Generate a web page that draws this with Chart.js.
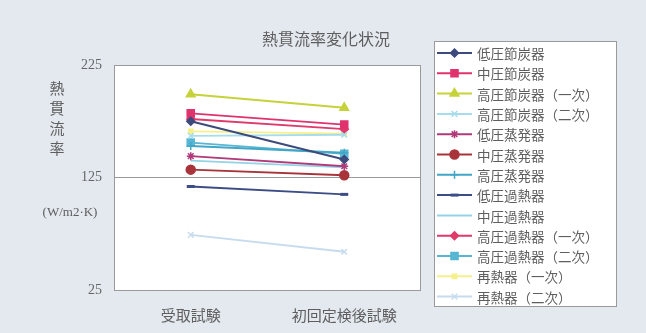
<!DOCTYPE html>
<html>
<head>
<meta charset="utf-8">
<script src="https://cdn.jsdelivr.net/npm/chart.js@4/dist/chart.umd.min.js"></script>
<style>
  html, body { margin: 0; padding: 0; background: #e3e9ef; }
  #wrap { width: 646px; height: 333px; }
</style>
</head>
<body>
<div id="wrap"><canvas id="c" width="646" height="333"></canvas></div>
<script>
// categories and tick labels
const categories = ['受取試験', '初回定検後試験'];
const yTicks = [25, 125, 225];

// series names (legend order)
const seriesNames = [
    '低圧節炭器', '中圧節炭器', '高圧節炭器（一次）', '高圧節炭器（二次）',
    '低圧蒸発器', '中圧蒸発器', '高圧蒸発器', '低圧過熱器', '中圧過熱器',
    '高圧過熱器（一次）', '高圧過熱器（二次）', '再熱器（一次）', '再熱器（二次）'
];

// values (W/m2·K)
const lpEcon = [175, 141];
const ipEcon = [182, 172];
const hpEcon1 = [199, 187];
const hpEcon2 = [162, 163];
const lpEvap = [144, 135];
const ipEvap = [132, 127];
const hpEvap = [153, 147];
const lpSh = [117, 110];
const ipSh = [140, 134];
const hpSh1 = [177, 168];
const hpSh2 = [156, 146];
const rh1 = [166, 164];
const rh2 = [74, 59];

const seriesValues = [lpEcon, ipEcon, hpEcon1, hpEcon2, lpEvap, ipEvap, hpEvap,
    lpSh, ipSh, hpSh1, hpSh2, rh1, rh2];

// styles per series
const styles = [
    { color: '#3c4a7c', point: 'rectRot', r: 4 },
    { color: '#e0336e', point: 'rect', r: 5 },
    { color: '#c6d23a', point: 'triangle', r: 5 },
    { color: '#a6dcec', point: 'crossRot', r: 4 },
    { color: '#b03a7a', point: 'star', r: 4 },
    { color: '#a8343a', point: 'circle', r: 4.5 },
    { color: '#42a6c6', point: 'cross', r: 4 },
    { color: '#3c4c84', point: 'line', r: 4 },
    { color: '#94d2e6', point: false, r: 0 },
    { color: '#e03a6a', point: 'rectRot', r: 4 },
    { color: '#56b6d4', point: 'rect', r: 5 },
    { color: '#f6f08a', point: 'rect', r: 3 },
    { color: '#c6dcee', point: 'crossRot', r: 4 }
];

const datasets = seriesNames.map((name, i) => ({
    label: name,
    data: seriesValues[i],
    borderColor: styles[i].color,
    backgroundColor: styles[i].color,
    borderWidth: 2,
    pointStyle: styles[i].point,
    pointRadius: styles[i].r,
    pointBorderWidth: (styles[i].point === 'line' ? 3 : 1.5),
    pointBorderColor: styles[i].color,
    pointBackgroundColor: styles[i].color
}));

const jpFont = '"Noto Sans CJK JP", sans-serif';
const serifFont = '"Liberation Serif", serif';
const textColor = '#5e5e5e';

const framePlugin = {
    id: 'frame',
    beforeDraw(chart) {
        const { ctx, chartArea: a } = chart;
        ctx.save();
        ctx.fillStyle = '#ffffff';
        ctx.fillRect(a.left, a.top, a.right - a.left, a.bottom - a.top);
        ctx.restore();
    },
    afterDraw(chart) {
        const { ctx, chartArea: a } = chart;
        ctx.save();
        ctx.strokeStyle = '#9a9a9a';
        ctx.lineWidth = 1;
        ctx.strokeRect(a.left + 0.5, a.top + 0.5, a.right - a.left - 1, a.bottom - a.top);

        // title
        ctx.fillStyle = textColor;
        ctx.font = '16px ' + jpFont;
        ctx.textAlign = 'center';
        ctx.textBaseline = 'middle';
        ctx.fillText('熱貫流率変化状況', 326, 39);

        // y-axis title, stacked
        ctx.font = '15px ' + jpFont;
        ['熱', '貫', '流', '率'].forEach((ch, k) => ctx.fillText(ch, 57, 88 + k * 20));
        ctx.font = '13px ' + serifFont;
        ctx.fillText('(W/m2·K)', 70, 213);

        // legend box
        const lx = 434, ly = 41, lw = 182, lh = 265;
        ctx.fillStyle = '#ffffff';
        ctx.fillRect(lx, ly, lw, lh);
        ctx.strokeStyle = '#9a9a9a';
        ctx.strokeRect(lx + 0.5, ly + 0.5, lw, lh);
        ctx.textAlign = 'left';
        ctx.font = '13.5px ' + jpFont;
        chart.data.datasets.forEach((ds, i) => {
            const y = 53 + i * 20.3;
            ctx.strokeStyle = ds.borderColor;
            ctx.lineWidth = 2;
            ctx.beginPath();
            ctx.moveTo(437, y);
            ctx.lineTo(472, y);
            ctx.stroke();
            if (ds.pointStyle) {
                ctx.fillStyle = ds.pointBackgroundColor;
                ctx.strokeStyle = ds.pointBorderColor;
                ctx.lineWidth = ds.pointBorderWidth;
                Chart.helpers.drawPoint(ctx, {
                    pointStyle: ds.pointStyle,
                    radius: ds.pointRadius,
                    borderWidth: ds.pointBorderWidth,
                    rotation: 0
                }, 454.5, y);
            }
            ctx.fillStyle = textColor;
            ctx.fillText(ds.label, 477, y + 1);
        });
        ctx.restore();
    }
};

new Chart(document.getElementById('c'), {
    type: 'line',
    data: { labels: categories, datasets },
    options: {
        responsive: false,
        animation: false,
        layout: { padding: { top: 65, right: 225, left: 0, bottom: 0 } },
        plugins: {
            legend: { display: false },
            tooltip: { enabled: false }
        },
        scales: {
            x: {
                offset: true,
                grid: { display: false },
                border: { display: false },
                ticks: { color: textColor, font: { family: jpFont, size: 15 }, padding: 8 },
                afterFit: (s) => { s.height = 43; }
            },
            y: {
                min: 25,
                max: 225,
                afterBuildTicks: (s) => { s.ticks = yTicks.map(v => ({ value: v })); },
                grid: { color: '#9a9a9a', drawTicks: false },
                border: { display: false },
                ticks: { color: '#666', font: { family: serifFont, size: 14 }, padding: 12 },
                afterFit: (s) => { s.width = 114; }
            }
        }
    },
    plugins: [framePlugin]
});
</script>
</body>
</html>
